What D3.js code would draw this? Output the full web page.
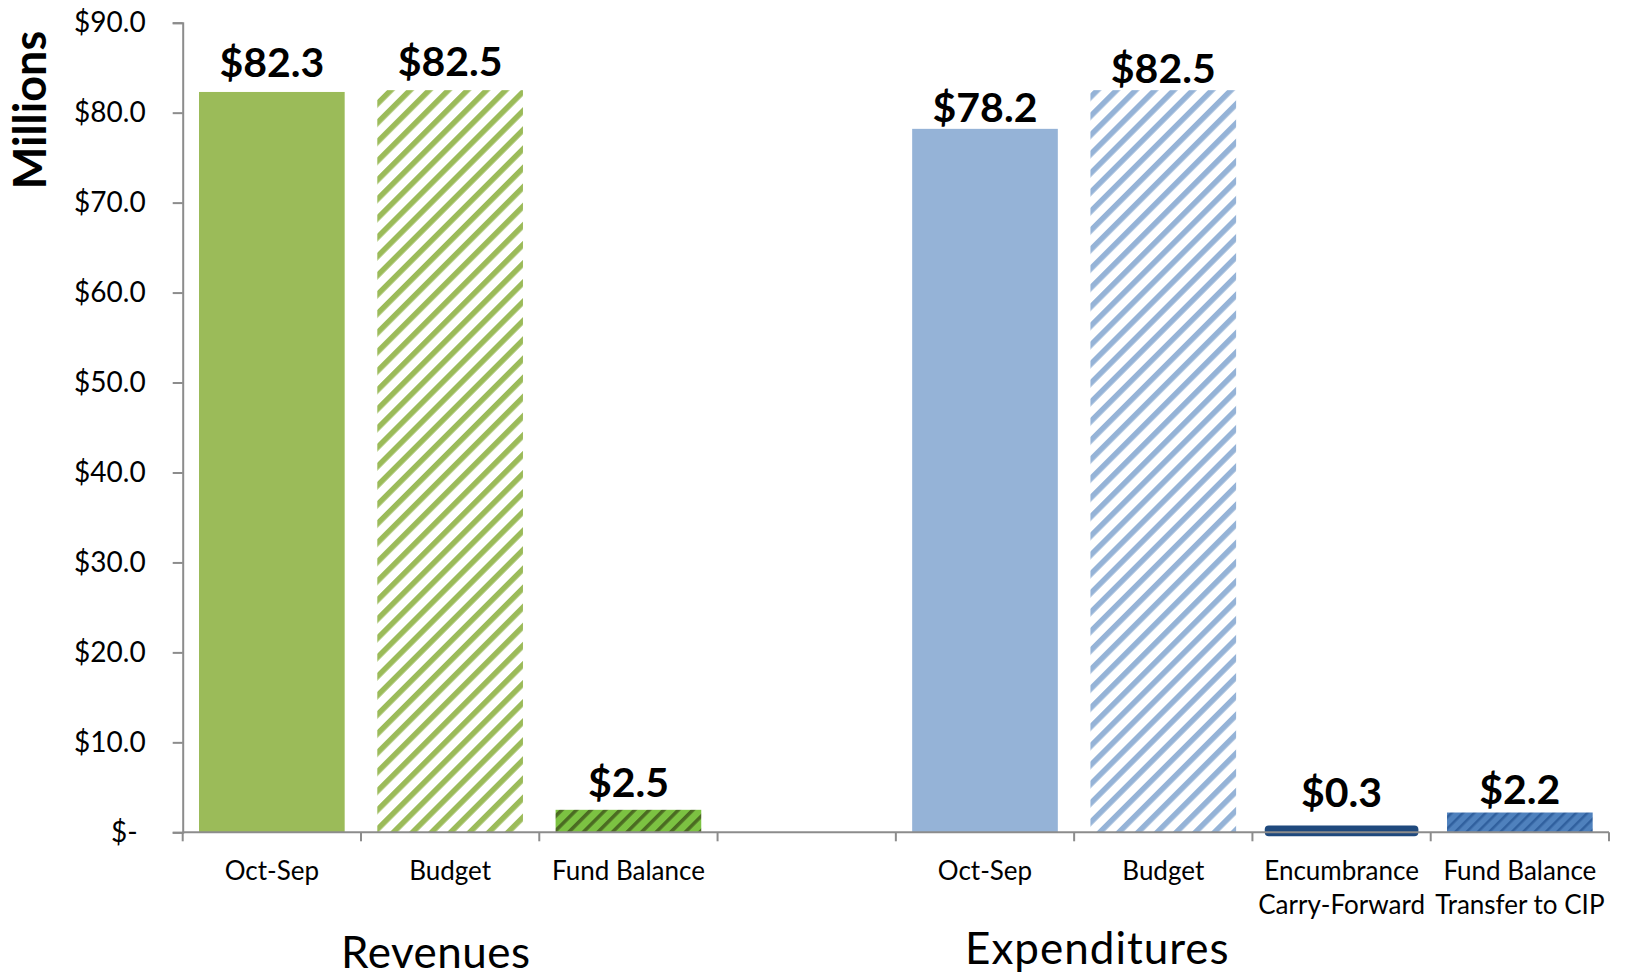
<!DOCTYPE html>
<html>
<head>
<meta charset="utf-8">
<script src="https://cdn.jsdelivr.net/npm/d3@7"></script>
<style>
  body { margin: 0; background: #fff; }
  svg { display: block; font-family: Lato, "Open Sans", sans-serif; }
</style>
</head>
<body>
<svg id="chart" width="1625" height="976"></svg>
<script>
// slot ids, one per category position ("gap" is the empty slot between groups)
const slots = ['revActual', 'revBudget', 'revFund', 'gap', 'expActual', 'expBudget', 'expEncumb', 'expTransfer'];
const categoryLabels = [
  ['Oct-Sep'], ['Budget'], ['Fund Balance'], [],
  ['Oct-Sep'], ['Budget'], ['Encumbrance', 'Carry-Forward'], ['Fund Balance', 'Transfer to CIP']
];
// values in $ millions
const values = [82.3, 82.5, 2.5, null, 78.2, 82.5, 0.3, 2.2];
const valueLabels = ['$82.3', '$82.5', '$2.5', '', '$78.2', '$82.5', '$0.3', '$2.2'];
const yTicks = [0, 10, 20, 30, 40, 50, 60, 70, 80, 90];
const groups = ['Revenues', 'Expenditures'];

// how far each value label sits above its bar (px)
const labelGap = [15, 14, 13, 0, 7, 7, 23, 9];
const fills = ['#9bbb59', 'url(#stripeGreen)', 'url(#stripeFund)', 'none',
               '#95b3d7', 'url(#stripeBlue)', '#1f497d', 'url(#stripeCip)'];

const svg = d3.select('#chart');
const plotLeft = 182.7, plotRight = 1609, plotTop = 22.7, plotBottom = 832.3;

const x = d3.scaleBand()
  .domain(slots)
  .range([plotLeft, plotRight])
  .paddingInner(0.183)
  .paddingOuter(0.0915);

const y = d3.scaleLinear()
  .domain([0, 90])
  .range([plotBottom, plotTop]);

const slot = d3.scaleLinear().domain([0, slots.length]).range([plotLeft, plotRight]);

// hatch patterns
const defs = svg.append('defs');
function stripes(id, bg, fg, size, width) {
  const p = defs.append('pattern')
    .attr('id', id)
    .attr('patternUnits', 'userSpaceOnUse')
    .attr('width', size)
    .attr('height', size)
    .attr('patternTransform', 'rotate(45)');
  p.append('rect').attr('width', size).attr('height', size).attr('fill', bg);
  p.append('rect').attr('width', width).attr('height', size).attr('fill', fg);
}
stripes('stripeGreen', '#ffffff', '#9bbb59', 13.5, 5.5);
stripes('stripeBlue', '#ffffff', '#95b3d7', 13.5, 5.5);
stripes('stripeFund', '#7cc242', '#4b6b22', 10.3, 3.5);
stripes('stripeCip', '#4f81bd', '#30609e', 8, 2.5);

// y axis
const yAxis = svg.append('g')
  .attr('transform', 'translate(' + plotLeft + ',0)')
  .call(d3.axisLeft(y).tickValues(yTicks).tickSize(10).tickPadding(27)
    .tickFormat(d => d === 0 ? '$-' : '$' + d.toFixed(1)));
yAxis.select('.domain').attr('stroke', '#8c8c8c').attr('stroke-width', 2);
yAxis.selectAll('.tick line').attr('stroke', '#8c8c8c').attr('stroke-width', 2);
yAxis.selectAll('.tick text')
  .attr('fill', '#000')
  .attr('font-size', '28px')
  .attr('font-family', 'Lato, sans-serif')
  .attr('dx', d => d === 0 ? -8 : 0);

svg.append('text')
  .attr('transform', 'translate(46,110) rotate(-90)')
  .attr('text-anchor', 'middle')
  .attr('font-size', '45px')
  .attr('font-weight', 'bold')
  .text('Millions');

// bars
svg.selectAll('rect.bar')
  .data(slots.map((s, i) => ({ s, i, v: values[i] })).filter(d => d.v !== null))
  .enter()
  .append('rect')
  .attr('class', 'bar')
  .attr('x', d => x(d.s))
  .attr('width', x.bandwidth())
  .attr('y', d => y(d.v))
  .attr('height', d => y(0) - y(d.v))
  .attr('fill', d => fills[d.i])
  .attr('stroke', d => d.s === 'expEncumb' ? '#1f497d' : 'none')
  .attr('stroke-width', d => d.s === 'expEncumb' ? 8 : 0)
  .attr('stroke-linejoin', 'round');

// x axis
const xAxis = svg.append('g');
xAxis.append('line')
  .attr('x1', plotLeft).attr('x2', plotRight)
  .attr('y1', y(0)).attr('y2', y(0))
  .attr('stroke', '#8c8c8c').attr('stroke-width', 2);
xAxis.selectAll('line.tick')
  .data(d3.range(slots.length + 1))
  .enter()
  .append('line')
  .attr('class', 'tick')
  .attr('x1', d => slot(d)).attr('x2', d => slot(d))
  .attr('y1', y(0)).attr('y2', y(0) + 9)
  .attr('stroke', '#8c8c8c').attr('stroke-width', 2);

// category labels
slots.forEach((s, i) => {
  const t = svg.append('text')
    .attr('text-anchor', 'middle')
    .attr('font-size', '26px')
    .attr('fill', '#000');
  categoryLabels[i].forEach((line, j) => {
    t.append('tspan')
      .attr('x', x(s) + x.bandwidth() / 2)
      .attr('y', 880 + j * 34)
      .text(line);
  });
});

// value labels
svg.selectAll('text.value')
  .data(slots.map((s, i) => ({ s, i, v: values[i] })).filter(d => d.v !== null))
  .enter()
  .append('text')
  .attr('class', 'value')
  .attr('x', d => x(d.s) + x.bandwidth() / 2)
  .attr('y', d => y(d.v) - labelGap[d.i])
  .attr('text-anchor', 'middle')
  .attr('font-size', '41px')
  .attr('font-weight', 'bold')
  .text(d => valueLabels[d.i]);

// group titles
svg.selectAll('text.group')
  .data(groups)
  .enter()
  .append('text')
  .attr('class', 'group')
  .attr('x', (d, i) => slot(i === 0 ? 1.42 : 5.13))
  .attr('y', (d, i) => i === 0 ? 968 : 964)
  .attr('text-anchor', 'middle')
  .attr('font-size', '44px')
  .attr('letter-spacing', (d, i) => i === 0 ? '0.5px' : '1px')
  .attr('fill', '#000')
  .text(d => d);
</script>
</body>
</html>
